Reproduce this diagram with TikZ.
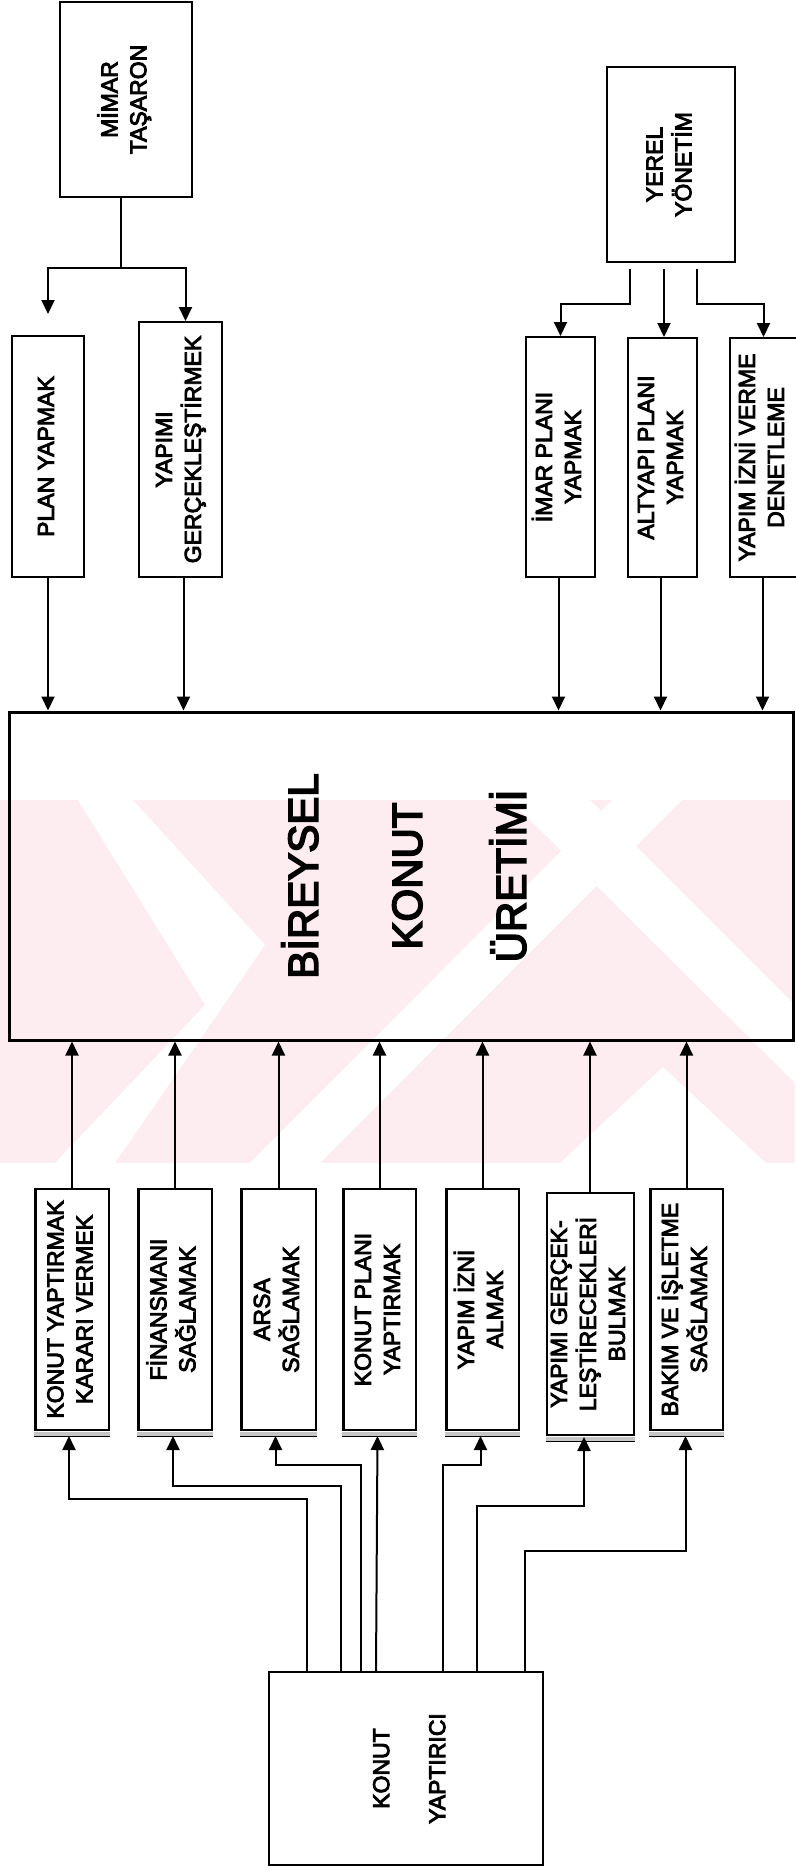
\documentclass[tikz,border=0pt]{standalone}
\usepackage{fontspec}
\setmainfont{Liberation Sans}[FakeBold=4]
\usepackage{graphicx}
\usetikzlibrary{arrows.meta}
\definecolor{wmpink}{RGB}{253,236,240}
\newcommand{\rottext}[1]{\rotatebox{90}{\begin{tabular}{@{}c@{}}#1\end{tabular}}}
\begin{document}
\begin{tikzpicture}[x=1pt,y=-1pt,
  box/.style={draw, line width=2pt, inner sep=0pt, font=\fontsize{23}{29}\selectfont},
  arr/.style={line width=2pt, -{Triangle[width=13pt,length=14pt]}},
  ln/.style={line width=2pt}]
\useasboundingbox (0,0) rectangle (795,1871);
% watermark
\fill[wmpink] (0,800) rectangle (795,1163);
\fill[white] (78,800)--(133,800)--(265,945)--(115,1163)--(55,1163)--(205,1005)--cycle;
\fill[white] (250,1163)--(320,1163)--(682,800)--(612,800)--cycle;
\fill[white] (560,1163)--(663,1067)--(766,1163)--cycle;
\fill[white] (510,800)--(590,800)--(795,1005)--(795,1083)--cycle;
% top nodes
\node[box, minimum width=132pt, minimum height=195pt] (mimar) at (126,99.5) {\rottext{M\.IMAR\\TAŞARON}};
\node[box, minimum width=72pt, minimum height=241pt] (plan) at (48,456.5) {\rottext{PLAN YAPMAK}};
\node[box, minimum width=83pt, minimum height=255pt] (yapimi) at (180.5,449.5) {\rottext{YAPIMI\\GERÇEKLEŞT\.IRMEK}};
\node[box, minimum width=128pt, minimum height=195pt] (yerel) at (671,164.5) {\rottext{YEREL\\YÖNET\.IM}};
\node[box, minimum width=69pt, minimum height=240pt] (imar) at (560.5,457) {\rottext{\.IMAR PLANI\\YAPMAK}};
\node[box, minimum width=69pt, minimum height=239pt] (altyapi) at (662.5,457.5) {\rottext{ALTYAPI PLANI\\YAPMAK}};
\node[box, minimum width=67pt, minimum height=239pt] (izin) at (763.5,457.5) {\rottext{YAPIM \.IZN\.I VERME\\DENETLEME}};
% main
\node[draw, line width=3pt, inner sep=0pt, minimum width=784pt, minimum height=328pt,
  font=\fontsize{42}{104}\selectfont] (main) at (401,876) {\rottext{B\.IREYSEL\\KONUT\\ÜRET\.IM\.I}};
% lower boxes
\node[box, minimum width=74pt, minimum height=241pt] (b1) at (72,1309.5) {\rottext{KONUT YAPTIRMAK\\KARARI VERMEK}};
\node[box, minimum width=74pt, minimum height=241pt] (b2) at (175,1309.5) {\rottext{F\.INANSMANI\\SAĞLAMAK}};
\node[box, minimum width=75pt, minimum height=241pt] (b3) at (278.5,1309.5) {\rottext{ARSA\\SAĞLAMAK}};
\node[box, minimum width=73pt, minimum height=241pt] (b4) at (379.5,1309.5) {\rottext{KONUT PLANI\\YAPTIRMAK}};
\node[box, minimum width=73pt, minimum height=241pt] (b5) at (482.5,1309.5) {\rottext{YAPIM \.IZN\.I\\ALMAK}};
\node[box, minimum width=86pt, minimum height=242pt] (b6) at (590,1314) {\rottext{YAPIMI GERÇEK-\\LEŞT\.IRECEKLER\.I\\BULMAK}};
\node[box, minimum width=73pt, minimum height=241pt] (b7) at (686.5,1309.5) {\rottext{BAKIM VE \.IŞLETME\\SAĞLAMAK}};
\foreach \b in {b1,b2,b3,b4,b5,b6,b7}{
  \fill[gray!45] ([yshift=-1pt]\b.south west) rectangle ([yshift=-5pt]\b.south east);
  \draw[line width=1pt] ([yshift=-5pt]\b.south west) -- ([yshift=-5pt]\b.south east);
  \draw[line width=2pt] ([xshift=1.5pt]\b.north west) -- ([xshift=1.5pt]\b.south west);
}
\node[box, minimum width=274pt, minimum height=193pt, font=\fontsize{23}{56}\selectfont] (konut) at (406,1768.5) {\rottext{KONUT\\YAPTIRICI}};
% MIMAR connectors
\path (mimar.south) ++(-5,70) coordinate (mj);
\draw[ln] ([xshift=-5pt]mimar.south) -- (mj);
\draw[arr] (mj) -| ([yshift=21pt]plan.north);
\draw[arr] (mj) -| ([xshift=5pt]yapimi.north);
\draw[arr] (plan.south) -- (plan.south |- main.north);
\draw[arr] ([xshift=3pt]yapimi.south) -- ([xshift=3pt]yapimi.south |- main.north);
% YEREL connectors
\path ([xshift=-41pt,yshift=-6pt]yerel.south) coordinate (y1);
\path ([xshift=-7pt,yshift=-6pt]yerel.south) coordinate (y2);
\path ([xshift=26pt,yshift=-6pt]yerel.south) coordinate (y3);
\draw[arr] (y1) -- ++(0,35) -| (imar.north);
\draw[arr] (y2) -- (y2 |- altyapi.north);
\draw[arr] (y3) -- ++(0,35) -| (izin.north);
\draw[arr] ([xshift=-2pt]imar.south) -- ([xshift=-2pt]imar.south |- main.north);
\draw[arr] ([xshift=-2pt]altyapi.south) -- ([xshift=-2pt]altyapi.south |- main.north);
\draw[arr] ([xshift=-1pt]izin.south) -- ([xshift=-1pt]izin.south |- main.north);
% lower arrows into main
\foreach \b in {b1,b2,b3,b4,b5,b6,b7}{
  \draw[arr] (\b.north) -- (\b.north |- main.south);
}
% KONUT YAPTIRICI routes
\draw[arr] ([xshift=-99pt]konut.north) -- ++(0,-172) -| ([xshift=-3pt,yshift=-5pt]b1.south);
\draw[arr] ([xshift=-65pt]konut.north) -- ++(0,-185) -| ([xshift=-2pt,yshift=-5pt]b2.south);
\draw[arr] ([xshift=-45pt]konut.north) -- ++(0,-206) -| ([xshift=-3pt,yshift=-5pt]b3.south);
\draw[arr] ([xshift=-30pt]konut.north) -- ([xshift=-2pt,yshift=-5pt]b4.south);
\draw[arr] ([xshift=37pt]konut.north) -- ++(0,-206) -| ([xshift=-2pt,yshift=-5pt]b5.south);
\draw[arr] ([xshift=71pt]konut.north) -- ++(0,-165) -| ([xshift=-6pt,yshift=-1pt]b6.south);
\draw[arr] ([xshift=119pt]konut.north) -- ++(0,-120) -| ([xshift=-1pt,yshift=-5pt]b7.south);
\end{tikzpicture}
\end{document}
